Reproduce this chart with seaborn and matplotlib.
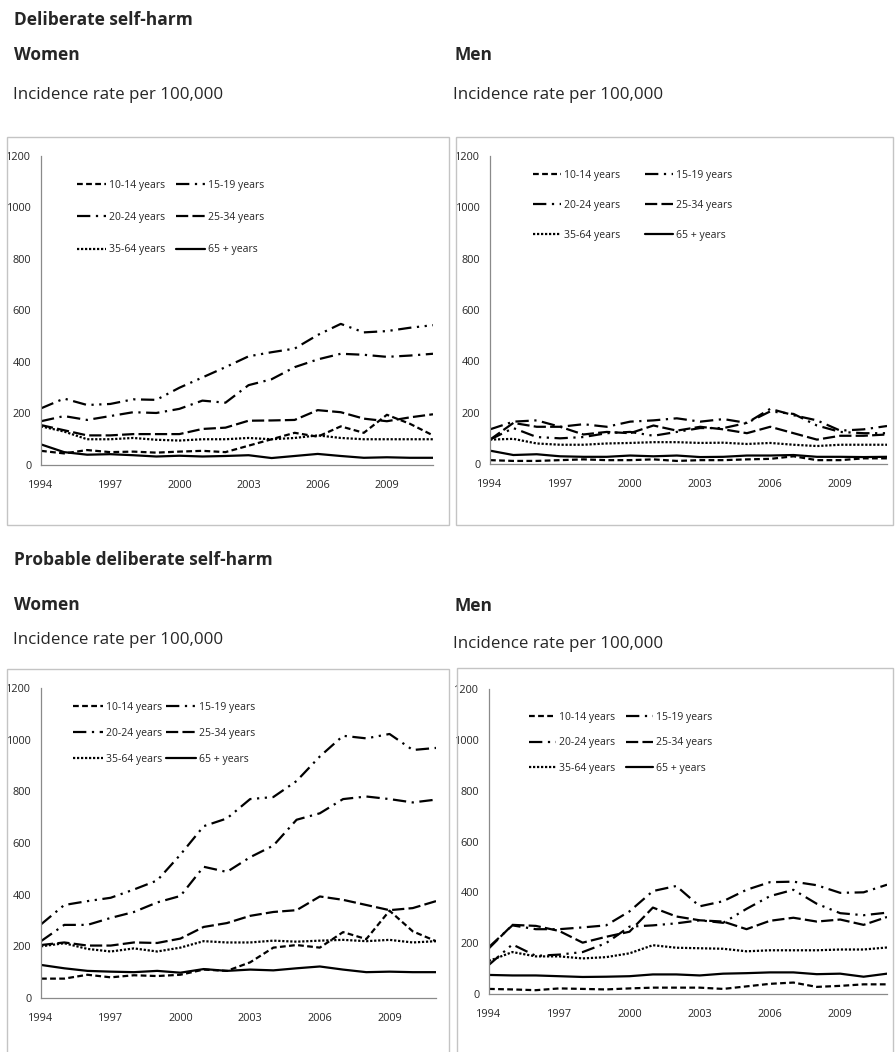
import matplotlib
matplotlib.use("Agg")
import matplotlib.pyplot as plt
import seaborn as sns
import pandas as pd
from matplotlib.patches import Rectangle

years = list(range(1994, 2012))
xtick_labels = [str(y) if (y - 1994) % 3 == 0 else "" for y in years]
yticks = [0, 200, 400, 600, 800, 1000, 1200]
groups = ["10-14 years", "15-19 years", "20-24 years", "25-34 years", "35-64 years", "65 + years"]

# Deliberate self-harm, women
dw_10_14 = [55, 45, 58, 50, 52, 48, 52, 55, 50, 75, 100, 125, 110, 150, 125, 195, 160, 115]
dw_15_19 = [220, 258, 233, 237, 255, 253, 300, 340, 380, 422, 438, 452, 505, 548, 515, 520, 533, 543]
dw_20_24 = [170, 190, 175, 190, 205, 202, 218, 250, 242, 310, 333, 380, 410, 432, 428, 420, 425, 432]
dw_25_34 = [155, 135, 115, 115, 120, 120, 120, 140, 145, 172, 173, 175, 213, 205, 180, 170, 185, 197]
dw_35_64 = [150, 130, 100, 100, 105, 98, 95, 100, 100, 105, 100, 105, 115, 105, 100, 100, 100, 100]
dw_65 = [80, 50, 40, 42, 38, 33, 36, 33, 35, 38, 27, 35, 43, 35, 28, 30, 28, 28]

# Deliberate self-harm, men
dm_10_14 = [15, 12, 12, 15, 18, 15, 15, 18, 12, 15, 15, 18, 20, 30, 15, 15, 22, 22]
dm_15_19 = [95, 140, 105, 100, 105, 120, 125, 110, 125, 140, 140, 160, 205, 195, 150, 125, 120, 120]
dm_20_24 = [135, 165, 170, 145, 155, 145, 165, 170, 178, 165, 175, 160, 215, 190, 170, 130, 135, 148]
dm_25_34 = [95, 160, 145, 145, 115, 125, 120, 150, 130, 145, 135, 120, 145, 120, 95, 110, 110, 115]
dm_35_64 = [95, 98, 80, 75, 75, 80, 82, 85, 85, 82, 83, 78, 82, 75, 70, 75, 75, 75]
dm_65 = [52, 35, 38, 30, 28, 28, 33, 30, 33, 27, 28, 33, 33, 35, 28, 28, 27, 28]

# Probable deliberate self-harm, women
pw_10_14 = [75, 75, 90, 80, 88, 85, 90, 110, 105, 138, 195, 205, 195, 255, 228, 338, 258, 220]
pw_15_19 = [285, 360, 375, 388, 420, 455, 555, 665, 695, 770, 778, 840, 935, 1015, 1005, 1022, 960, 968]
pw_20_24 = [220, 283, 283, 310, 333, 370, 395, 508, 488, 545, 590, 690, 715, 770, 780, 770, 757, 768]
pw_25_34 = [205, 215, 203, 203, 215, 213, 230, 275, 290, 318, 333, 340, 393, 380, 360, 340, 348, 375]
pw_35_64 = [200, 212, 190, 180, 192, 180, 195, 220, 215, 215, 222, 218, 222, 225, 220, 225, 215, 220]
pw_65 = [128, 115, 105, 102, 100, 105, 98, 112, 105, 110, 107, 115, 122, 110, 100, 102, 100, 100]

# Probable deliberate self-harm, men
pm_10_14 = [20, 18, 15, 22, 20, 18, 22, 25, 25, 25, 20, 30, 40, 45, 28, 32, 38, 38]
pm_15_19 = [115, 195, 150, 155, 165, 200, 265, 270, 278, 290, 280, 335, 385, 410, 355, 318, 310, 320]
pm_20_24 = [185, 270, 255, 255, 262, 270, 325, 405, 425, 345, 365, 410, 440, 442, 428, 398, 400, 430]
pm_25_34 = [180, 272, 268, 248, 202, 225, 245, 340, 305, 290, 285, 255, 288, 300, 285, 293, 272, 303]
pm_35_64 = [130, 165, 148, 148, 140, 145, 160, 192, 182, 180, 178, 168, 172, 172, 172, 175, 175, 183]
pm_65 = [75, 73, 73, 70, 67, 68, 70, 77, 77, 73, 80, 82, 85, 85, 78, 80, 68, 80]

panels_data = [
    [dw_10_14, dw_15_19, dw_20_24, dw_25_34, dw_35_64, dw_65],
    [dm_10_14, dm_15_19, dm_20_24, dm_25_34, dm_35_64, dm_65],
    [pw_10_14, pw_15_19, pw_20_24, pw_25_34, pw_35_64, pw_65],
    [pm_10_14, pm_15_19, pm_20_24, pm_25_34, pm_35_64, pm_65],
]

sns.set_theme(style="white")
FONT = ["Open Sans", "DejaVu Sans"]
plt.rcParams["font.family"] = FONT

W, H = 896, 1052
fig = plt.figure(figsize=(W / 100, H / 100), dpi=100)

def fx(px):
    return px / W

def fy(py):
    return 1 - py / H

dash_map = {
    "10-14 years": (2.6, 1.5),
    "15-19 years": (6, 2.5, 1, 2.5, 1, 2.5),
    "20-24 years": (6, 2.5, 1, 2.5),
    "25-34 years": (5.5, 1.9),
    "35-64 years": (1, 0.8),
    "65 + years": "",
}

LEG_FS = 7.5
# axes rectangles in pixels: left, right, top(1200), bottom(0)
axes_px = [
    (41, 433, 156, 465),
    (490, 887, 156, 464),
    (41, 436, 688, 998),
    (489, 887, 689, 994),
]
# legend settings: anchor x,y (axes), colspacing, labelspacing, handlelength
leg_cfg = [
    (0.092, 0.922, 0.97, 2.02, 2.8),
    (0.108, 0.955, 2.35, 1.83, 2.7),
    (0.081, 0.955, 0.32, 1.44, 2.9),
    (0.100, 0.925, 1.05, 1.40, 2.6),
]
boxes = [(7, 449, 137, 525), (456, 893, 137, 525), (7, 449, 669, 1060), (457, 893, 668, 1060)]

for box in boxes:
    fig.patches.append(Rectangle((fx(box[0]), fy(box[3])), fx(box[1] - box[0]), (box[3] - box[2]) / H,
                                 transform=fig.transFigure, fill=False, edgecolor="#c4c4c4", lw=1.0))

for i, ((l, r, t, b), (lx, ly, cs, ls, hl)) in enumerate(zip(axes_px, leg_cfg)):
    ax = fig.add_axes([fx(l), fy(b), fx(r - l), (b - t) / H])
    rows = []
    for g, vals in zip(groups, panels_data[i]):
        for y, v in zip(years, vals):
            rows.append({"year": y, "rate": v, "group": g})
    df = pd.DataFrame(rows)
    sns.lineplot(data=df, x="year", y="rate", style="group", style_order=groups,
                 dashes=dash_map, color="black", linewidth=1.6, ax=ax, legend=True)
    handles, labels = ax.get_legend_handles_labels()
    hd = {lab: h for h, lab in zip(handles, labels) if lab in groups}
    order = [groups[0], groups[2], groups[4], groups[1], groups[3], groups[5]]
    ax.legend([hd[g] for g in order], order, ncol=2, frameon=False, loc="upper left",
              bbox_to_anchor=(lx, ly), borderaxespad=0, borderpad=0, handlelength=hl,
              handletextpad=0.3, columnspacing=cs, labelspacing=ls, fontsize=LEG_FS)
    ax.set_xlim(1994, 2011)
    ax.set_ylim(0, 1200)
    ax.set_xticks(years)
    ax.set_xticklabels(xtick_labels)
    ax.set_yticks(yticks)
    ax.set_yticklabels([str(v) for v in yticks])
    ax.set_xlabel("")
    ax.set_ylabel("")
    ax.patch.set_alpha(0)
    for s in ["top", "right"]:
        ax.spines[s].set_visible(False)
    for s in ["left", "bottom"]:
        ax.spines[s].set_color("#8a8a8a")
        ax.spines[s].set_linewidth(0.9)
    ax.tick_params(axis="both", which="both", direction="out", color="#8a8a8a",
                   labelcolor="#262626", labelsize=7.8, width=0.9)
    ax.tick_params(axis="x", length=5, pad=6)
    ax.tick_params(axis="y", length=4, pad=3)
    ax.grid(False)

HS = 12.5
SS = 12.2
fig.text(fx(14), fy(20), "Deliberate self-harm", fontsize=HS, fontweight="bold", va="center")
fig.text(fx(14), fy(55), "Women", fontsize=HS, fontweight="bold", va="center")
fig.text(fx(454), fy(55), "Men", fontsize=HS, fontweight="bold", va="center")
fig.text(fx(13), fy(95), "Incidence rate per 100,000", fontsize=SS, va="center")
fig.text(fx(453), fy(95), "Incidence rate per 100,000", fontsize=SS, va="center")
fig.text(fx(14), fy(560), "Probable deliberate self-harm", fontsize=HS, fontweight="bold", va="center")
fig.text(fx(14), fy(605), "Women", fontsize=HS, fontweight="bold", va="center")
fig.text(fx(454), fy(606), "Men", fontsize=HS, fontweight="bold", va="center")
fig.text(fx(13), fy(640), "Incidence rate per 100,000", fontsize=SS, va="center")
fig.text(fx(453), fy(644), "Incidence rate per 100,000", fontsize=SS, va="center")

fig.savefig("out.png", dpi=100)
